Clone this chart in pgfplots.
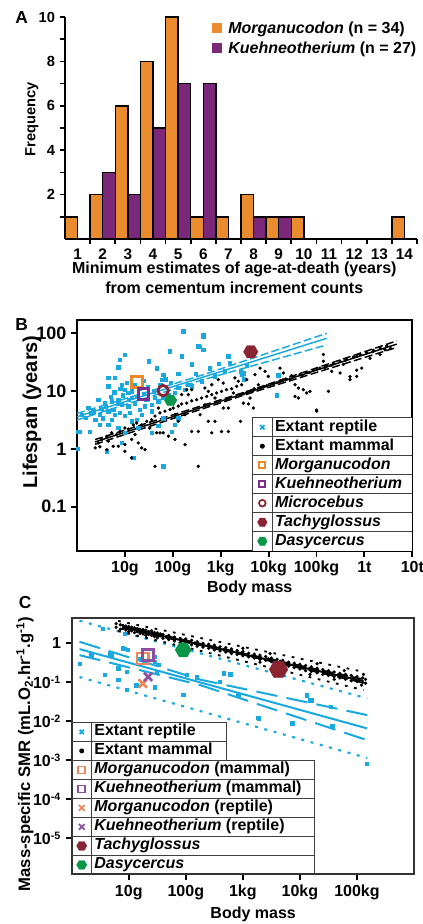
\documentclass[border=0pt]{standalone}
\usepackage{pgfplots}
\pgfplotsset{compat=1.18}
\usepackage{fontspec}
\setmainfont{Liberation Sans}
\newcommand{\fs}[1]{\fontsize{#1}{#1}\selectfont}
\definecolor{cyanR}{RGB}{25,168,224}
\definecolor{orA}{RGB}{234,139,45}
\definecolor{puA}{RGB}{124,40,122}
\definecolor{orB}{RGB}{236,137,44}
\definecolor{puB}{RGB}{125,45,140}
\definecolor{redT}{RGB}{138,36,50}
\definecolor{grD}{RGB}{10,150,72}
\definecolor{salC}{RGB}{236,134,92}
\definecolor{puC}{RGB}{140,80,160}
\pgfdeclareplotmark{hexagon*}{%
  \pgfpathmoveto{\pgfpointpolar{0}{\pgfplotmarksize}}%
  \pgfpathlineto{\pgfpointpolar{60}{\pgfplotmarksize}}%
  \pgfpathlineto{\pgfpointpolar{120}{\pgfplotmarksize}}%
  \pgfpathlineto{\pgfpointpolar{180}{\pgfplotmarksize}}%
  \pgfpathlineto{\pgfpointpolar{240}{\pgfplotmarksize}}%
  \pgfpathlineto{\pgfpointpolar{300}{\pgfplotmarksize}}%
  \pgfpathclose
  \pgfusepathqfillstroke}
\pgfplotsset{
  lgmark/.style 2 args={legend image code/.code={%
     \path[draw=none,fill=none] (-7.5pt,-7pt) rectangle (7.5pt,7pt);
     \draw[##1,mark size=#1,line width=#2,mark options={solid}] plot coordinates {(0pt,0pt)};}},
  lgx/.style={legend image code/.code={%
     \path[draw=none,fill=none] (-7.5pt,-7pt) rectangle (7.5pt,7pt);
     \draw[cyanR,line width=1.3pt,mark=x,mark size=2.3pt] plot coordinates {(0pt,0pt)};}},
  rept/.style={only marks, mark=square*, mark size=1.25pt, cyanR, mark options={draw=none, fill=cyanR}},
  mamm/.style={only marks, mark=*, mark size=1.05pt, black},
}
\begin{document}
\begin{tikzpicture}
\path[use as bounding box] (0,0) rectangle (317.25pt,693pt);
\node[font=\bfseries\fs{13}] at (16.3pt,679.5pt) {A};
\node[font=\bfseries\fs{13}] at (16.3pt,449.3pt) {B};
\node[font=\bfseries\fs{13}] at (18.8pt,240.8pt) {C};

%%%%%%%%%%%%%%%% A
\begin{axis}[name=axA, at={(48.75pt,513.75pt)}, anchor=south west, scale only axis,
  width=264pt, height=166.5pt, xmin=0, xmax=14, ymin=0, ymax=10, enlargelimits=false,
  axis lines*=left, axis line style={line width=1.4pt, black},
  tick align=outside, major tick length=4pt, tick style={line width=1.2pt, black},
  xtick={1,2,3,4,5,6,7,8,9,10,11,12,13,14},
  xticklabels={1,2,3,4,5,6,7,8,9,10,11,12,13,14},
  xticklabel style={xshift=-9.43pt, font=\bfseries\fs{11.5}},
  ytick={1,2,3,4,5,6,7,8,9,10}, yticklabels={,2,,4,,6,,8,,10},
  yticklabel style={font=\bfseries\fs{11}},
  ylabel={Frequency}, ylabel style={at={(rel axis cs:-0.0939,0.5405)}, anchor=center, font=\bfseries\fs{11}},
  xlabel={Minimum estimates of age-at-death (years)\\from cementum increment counts},
  xlabel style={align=center, font=\bfseries\fontsize{12}{15}\selectfont, at={(rel axis cs:0.481,-0.1757)}, anchor=center},
  legend cell align=left,
  legend style={at={(rel axis cs:0.409,0.994)}, anchor=north west, draw=none, fill=none,
    inner sep=0pt, outer sep=0pt, row sep=0pt, column sep=0pt, font=\bfseries\fs{12},
    nodes={draw=none, fill=none, inner sep=0pt, inner xsep=2.5pt, minimum height=15pt}},
]
\addplot[ybar, bar width=0.5, bar shift=0pt, fill=orA, draw=black, line width=1.1pt,
  legend image code/.code={\path[draw=none,fill=none] (-6pt,-7.5pt) rectangle (6pt,7.5pt); \path[fill=orA,draw=none] (-3.8pt,-3.8pt) rectangle (3.8pt,3.8pt);}]
  coordinates {(0.25,1) (1.25,2) (2.25,6) (3.25,8) (4.25,10) (5.25,1) (6.25,1) (7.25,2) (8.25,1) (9.25,1) (13.25,1)};
\addlegendentry{\textit{Morganucodon} (n = 34)}
\addplot[ybar, bar width=0.5, bar shift=0pt, fill=puA, draw=black, line width=1.1pt,
  legend image code/.code={\path[draw=none,fill=none] (-6pt,-7.5pt) rectangle (6pt,7.5pt); \path[fill=puA,draw=none] (-3.8pt,-3.8pt) rectangle (3.8pt,3.8pt);}]
  coordinates {(1.75,3) (2.75,2) (3.75,5) (4.75,7) (5.75,7) (7.75,1) (8.75,1)};
\addlegendentry{\textit{Kuehneotherium} (n = 27)}
\end{axis}

%%%%%%%%%%%%%%%% B
\begin{axis}[name=axB, at={(57.75pt,279.98pt)}, anchor=south west, scale only axis,
  width=251.5pt, height=173pt, xmode=log, ymode=log,
  xmin=1, xmax=1e7, ymin=0.01733, ymax=170,
  axis line style={line width=1.5pt, black},
  tick align=outside, tick pos=left, major tick length=4.5pt, tick style={line width=1.4pt, black},
  xminorticks=false, yminorticks=false,
  xtick={10,100,1000,10000,100000,1000000,10000000},
  xticklabels={10g,100g,1kg,10kg,100kg,1t,10t},
  xticklabel style={font=\bfseries\fs{12}},
  ytick={0.1,1,10,100}, yticklabels={0.1,1,10,100},
  yticklabel style={font=\bfseries\fs{13.5}},
  ylabel={Lifespan (years)}, ylabel style={at={(rel axis cs:-0.134,0.601)}, anchor=center, font=\bfseries\fs{15}},
  xlabel={Body mass}, xlabel style={at={(rel axis cs:0.515,-0.1617)}, anchor=center, font=\bfseries\fs{12}},
  lgmark={3pt}{1pt},
  legend cell align=left,
  legend style={at={(rel axis cs:1,0)}, anchor=south west, xshift=-120pt, draw=none, fill=white,
    inner sep=0pt, outer sep=0pt, row sep=0pt, column sep=0pt, font=\bfseries\fs{12},
    nodes={draw=none, fill=none, inner sep=0pt, inner xsep=2pt, outer sep=0pt, minimum height=14.25pt, text width=101pt, text height=8.5pt, text depth=2.5pt}},
]
\addplot[rept, lgx] coordinates {
(166,108) (434,89) (341,60) (434,52) (10,43) (7.9,35) (87,49) (31,33) (153,40) (7.3,26) (46,25) (248,29)
(4.5,16.9) (6.2,16.9) (63,19.3) (130,19.8) (59,15.8) (1443,40) (1563,31) (2740,19.3) (4.5,12.1) (8.6,12.9)
(10,10.6) (11.8,9.3) (13.8,7.6) (2.8,7.1) (3.8,6.2) (5.3,6.7) (7.3,7.1) (8.6,5.8) (11.8,5.5) (16.3,6.2)
(1.72,5.1) (1.25,3.9) (2.0,4.2) (3.0,3.9) (4.5,4.5) (5.7,4.8) (6.2,3.9) (7.9,4.2) (10,3.7) (12.8,4.2)
(20.7,4.8) (26.3,5.5) (36,5.8) (42.5,7.6) (50,6.7) (63,7.6) (81,8.7) (111,9.3) (130,11.3) (180,10.6)
(211,12.9) (248,12.1) (401,14.8) (760,18) (1.16,2.0) (1.87,2.0) (3.0,2.6) (4.5,2.6) (7.3,2.3) (10,1.9)
(17.6,3.2) (19,2.3) (36,1.9) (50,2.5) (63,3.4) (95,2.0) (111,2.6) (130,3.4) (8.6,1.27) (4.2,0.91) (15,0.70)
(63,0.50) (2.4,3.2) (3.5,3.4) (5.3,3.2) (22.4,3.9) (36,4.5) (13.8,3.0) (5,8) (6,9.5) (7,6) (9,8.5) (12,7)
(14,10) (18,8) (20,11) (25,9) (28,7) (4,5.5) (3.2,5) (2.2,4.5) (8,11) (16,13) (11,14) (24,15) (30,12)
(40,10) (55,13) (70,16) (90,14) (1.5,3.5) (1.05,1.0) (1.06,2.0) (370,59) (430,93) (2600,22) (3000,16)
(3500,28) (14800,8.5) (15900,18.7) (2960,20.4) (300,20) (600,25) (900,30) (1200,22)};
\addlegendentry{Extant reptile}
\addplot[mamm, lgmark={1.6pt}{0.5pt}] coordinates {
(2.4,1.04) (2.8,1.27) (3.3,1.46) (4.2,1.66) (4.5,1.36) (5.3,1.9) (6.7,1.77) (7.9,2.0) (10,2.3) (11.8,2.2)
(15,2.6) (17.6,2.8) (22.4,2.6) (28.5,3.0) (36,3.2) (42.5,3.7) (54,4.2) (68.5,4.5) (87.5,4.8) (102,5.1)
(130,5.5) (153,6.0) (195,6.2) (248,6.8) (315,7.1) (401,7.6) (509,8.1) (650,8.7) (822,9.3) (1040,9.9)
(1320,10.6) (1690,11.0) (2150,12.1) (2740,12.9) (7.3,1.11) (10,0.91) (13.8,1.46) (19,1.27) (22.4,1.04)
(26.3,0.97) (46,1.9) (54,1.9) (63,1.9) (81,1.66) (111,1.46) (13.8,0.70) (42.5,0.50) (341,0.50) (180,1.19)
(248,2.0) (341,2.0) (650,1.9) (1040,2.0) (1443,2.0) (552,3.0) (760,3.0) (1130,5.1) (1443,5.1) (650,12.9)
(890,15.8) (468,11.3) (1130,13.8) (1980,16.9) (211,8.7) (248,10.6) (111,3.9) (180,3.9) (370,3.9) (468,5.8)
(1320,7.1) (130,3.0) (50,5.1) (33,2.3) (16.3,1.77) (10,1.19) (5.7,1.11) (4.2,0.97) (81,6.7) (111,7.1)
(153,8.7) (195,10.6) (552,9.9) (760,7.6) (1840,9.3) (2330,14.8) (3.0,1.09) (4.2,1.6)
(2530,8.7) (3480,9.5) (4800,10.3) (6620,11.3) (9120,12.4) (12560,13.5) (17300,14.8) (23800,16.0)
(32800,17.6) (45300,19.3) (62400,20.9) (85900,22.9) (118000,25) (163000,27.2) (225000,29.9) (310000,33)
(427000,35.5) (587000,38.9) (809000,43) (1110000,46.4) (1540000,50.8) (2120000,55.7) (2920000,60.4)
(2970,6.2) (3780,6.0) (4800,5.1) (4090,7.6) (6110,12.9) (8420,22) (9890,18) (6620,25) (17300,25)
(20300,20.6) (28000,15.8) (35600,12.9) (41800,11.3) (53100,10.6) (62400,9.3) (73100,9.9) (35600,8.1)
(41800,7.6) (101000,4.5) (177000,9.9) (139000,33) (163000,27) (207000,22) (139000,43) (500000,15.8)
(690000,18) (877000,25) (310000,20.6) (363000,29) (1310000,37) (2120000,43) (2690000,52) (3480,15.8)
(5200,19.3) (2590,3.0) (100000,4.7) (500000,17.8) (690000,23) (3000,9.0) (5000,11) (8000,12) (15000,14)
(20000,15.5) (30000,18.5) (50000,18.5) (70000,21) (100000,24) (150000,25.5) (200000,28) (400000,34)
(700000,40) (1500000,48) (3500000,55)};
\addlegendentry{Extant mammal}
% regression lines
\addplot[forget plot, cyanR, line width=1.1pt] coordinates {(1,3.6) (163000,82)};
\addplot[forget plot, cyanR, line width=1.1pt, dash pattern=on 6pt off 2.5pt] coordinates {(1,4.1) (400,18.8) (163000,100)};
\addplot[forget plot, cyanR, line width=1.1pt, dash pattern=on 6pt off 2.5pt] coordinates {(1,3.16) (400,15.5) (163000,63)};
\addplot[forget plot, black, line width=1.1pt] coordinates {(2.38,1.32) (4720000,65)};
\addplot[forget plot, black, line width=1.1pt, dash pattern=on 6pt off 2.5pt] coordinates {(2.38,1.45) (3162,9.6) (4720000,74)};
\addplot[forget plot, black, line width=1.1pt, dash pattern=on 6pt off 2.5pt] coordinates {(2.38,1.2) (3162,8.6) (4720000,57)};
% fossils and reference taxa
\addplot[only marks, mark=square, mark size=3.9pt, orB, line width=2.1pt, mark options={solid}, lgmark={2.3pt}{1.4pt}] coordinates {(17.9,14.4)};
\addlegendentry{\textit{Morganucodon}}
\addplot[only marks, mark=square, mark size=3.9pt, puB, line width=2.1pt, mark options={solid}, lgmark={2.3pt}{1.4pt}] coordinates {(24.3,8.9)};
\addlegendentry{\textit{Kuehneotherium}}
\addplot[only marks, mark=o, mark size=3.9pt, redT, line width=2.1pt, mark options={solid}, lgmark={2.5pt}{1.3pt}] coordinates {(63,10.2)};
\addlegendentry{\textit{Microcebus}}
\addplot[only marks, mark=hexagon*, mark size=5.4pt, redT, line width=0.3pt, lgmark={3.6pt}{0.3pt}] coordinates {(4230,48)};
\addlegendentry{\textit{Tachyglossus}}
\addplot[only marks, mark=hexagon*, mark size=4.6pt, grD, line width=0.3pt, lgmark={3.6pt}{0.3pt}] coordinates {(90,6.9)};
\addlegendentry{\textit{Dasycercus}}
\end{axis}
\begin{scope}[shift={(axB.south east)}, line width=0.9pt, black!75]
 \draw (-120pt,0) -- (-120pt,99.75pt) -- (0,99.75pt);
 \draw (-105pt,0) -- (-105pt,99.75pt);
 \foreach \k in {1,...,6} \draw (-120pt,\k*14.25pt) -- (0,\k*14.25pt);
\end{scope}

%%%%%%%%%%%%%%%% C
\begin{axis}[name=axC, at={(53.8pt,37.2pt)}, anchor=south west, scale only axis,
  width=256.7pt, height=192pt, xmode=log, ymode=log,
  xmin=1, xmax=1e6, ymin=1.19e-6, ymax=4.375,
  axis line style={line width=1.5pt, black!80},
  tick align=outside, tick pos=left, major tick length=4.5pt, tick style={line width=1.4pt, black},
  xminorticks=false, yminorticks=false,
  xtick={10,100,1000,10000,100000},
  xticklabels={10g,100g,1kg,10kg,100kg},
  xticklabel style={font=\bfseries\fs{12}},
  ytick={1e-5,1e-4,1e-3,1e-2,1e-1,1},
  yticklabels={10\textsuperscript{-5},10\textsuperscript{-4},10\textsuperscript{-3},10\textsuperscript{-2},10\textsuperscript{-1},1},
  yticklabel style={font=\bfseries\fs{12}},
  ylabel={Mass-specific SMR (mL.O\textsubscript{2}.hr\textsuperscript{-1}.g\textsuperscript{-1})},
  ylabel style={at={(rel axis cs:-0.1364,0.47)}, anchor=center, font=\bfseries\fs{12.5}},
  xlabel={Body mass}, xlabel style={at={(rel axis cs:0.53,-0.155)}, anchor=center, font=\bfseries\fs{12}},
  lgmark={3pt}{1pt},
  legend cell align=left,
  legend style={at={(rel axis cs:0,0)}, anchor=south west, draw=none, fill=none,
    inner sep=0pt, outer sep=0pt, row sep=0pt, column sep=0pt, font=\bfseries\fs{12},
    nodes={draw=none, fill=none, inner sep=0pt, inner xsep=2pt, outer sep=0pt, minimum height=14.25pt, text height=8.5pt, text depth=2.5pt}},
]
\addplot[rept, lgx] coordinates {
(1.37,0.306) (4.6,0.553) (2.2,0.50) (7.9,0.743) (9.7,0.673) (6.5,0.228) (9.1,0.187) (6.5,0.115) (9.1,0.0635)
(28.6,0.338) (30.6,0.187) (28.6,0.0743) (90,0.0472) (103,0.154) (155,0.134) (398,0.104) (457,0.170)
(600,0.163) (835,0.047) (1900,0.0119) (7300,0.0089) (13300,0.047) (16300,0.035) (34300,0.0238)
(36700,0.0076) (150000,0.00083) (8.5,1.8) (15.6,0.41) (3.5,2.4) (4.95,0.5) (8.5,0.74) (3.8,0.154)
(13.6,0.085) (28.6,0.454) (32.7,0.278) (14800,0.035) (1870,0.0125)};
\addlegendentry{Extant reptile}
\addplot[mamm, lgmark={1.6pt}{0.5pt}] coordinates {
(6.0,3.2) (6.0,2.6) (7.1,3.0) (7.1,2.3) (7.9,2.9) (7.9,2.4) (8.9,2.8) (8.9,2.2) (10,2.7) (10,2.0) (10,2.45)
(11.2,2.6) (11.2,2.1) (12.6,2.5) (12.6,1.9) (14.1,2.4) (14.1,2.0) (15.8,2.3) (15.8,1.8) (17.8,2.25)
(17.8,1.75) (20,2.2) (20,1.6) (22.4,2.0) (22.4,1.7) (25.1,2.1) (25.1,1.6) (28.2,1.9) (28.2,1.5) (31.6,1.85)
(31.6,1.4) (35.5,1.75) (39.8,1.7) (39.8,1.35) (50.1,1.6) (50.1,1.25) (63.1,1.45) (63.1,1.15) (79.4,1.35)
(79.4,1.05) (100,1.3) (100,0.98) (126,1.2) (126,0.92) (158,1.1) (158,0.85) (200,1.0) (200,0.8) (251,0.95)
(251,0.75) (316,0.9) (316,0.68) (398,0.82) (398,0.64) (501,0.78) (501,0.6) (631,0.72) (631,0.55) (794,0.66)
(794,0.52) (1000,0.62) (1000,0.48) (1259,0.56) (1259,0.45) (1585,0.53) (1585,0.42) (1995,0.5) (1995,0.39)
(2512,0.46) (2512,0.37) (2800,0.4) (3162,0.42) (3162,0.34) (3500,0.37) (3981,0.39) (3981,0.31) (4500,0.35)
(5012,0.37) (5012,0.28) (6310,0.33) (6310,0.26) (7943,0.31) (7943,0.24) (10000,0.29) (10000,0.22)
(12589,0.27) (12589,0.2) (15849,0.25) (15849,0.19) (19953,0.23) (19953,0.175) (25119,0.215) (25119,0.16)
(31623,0.2) (31623,0.15) (39811,0.185) (39811,0.14) (50119,0.17) (50119,0.13) (63096,0.16) (63096,0.12)
(79433,0.15) (79433,0.11) (100000,0.14) (100000,0.105) (125893,0.13) (125893,0.1) (141254,0.12)
(141254,0.095) (1000,0.75) (3000,0.55) (20000,0.3) (60000,0.2) (130000,0.16) (2000,0.33) (15000,0.16)
(40000,0.12) (120000,0.085)};
\addlegendentry{Extant mammal}
% regression lines
\addplot[forget plot, cyanR, line width=1.5pt] coordinates {(1.37,0.714) (151000,0.0066)};
\addplot[forget plot, cyanR, line width=1.5pt, dash pattern=on 16pt off 7pt] coordinates {(1.37,1.1) (177,0.118) (151000,0.0145)};
\addplot[forget plot, cyanR, line width=1.5pt, dash pattern=on 16pt off 7pt] coordinates {(1.37,0.5) (177,0.0855) (151000,0.0033)};
\addplot[forget plot, cyanR, line width=1.6pt, dash pattern=on 2.2pt off 5pt] coordinates {(1.37,3.8) (151000,0.039)};
\addplot[forget plot, cyanR, line width=1.6pt, dash pattern=on 2.2pt off 5pt] coordinates {(1.37,0.137) (151000,0.00115)};
\addplot[forget plot, black, line width=1.5pt] coordinates {(7.8,2.62) (130000,0.108)};
\addplot[forget plot, black, line width=1.2pt, dash pattern=on 8pt off 3pt] coordinates {(7.8,2.8) (1000,0.56) (130000,0.12)};
\addplot[forget plot, black, line width=1.2pt, dash pattern=on 8pt off 3pt] coordinates {(7.8,2.45) (1000,0.51) (130000,0.097)};
\addplot[forget plot, black, line width=1.4pt, dash pattern=on 2pt off 5pt] coordinates {(6.5,3.76) (130000,0.187)};
\addplot[forget plot, black, line width=1.4pt, dash pattern=on 2pt off 5pt] coordinates {(6.5,2.07) (130000,0.0636)};
% fossils and reference taxa
\addplot[only marks, mark=square, mark size=4.2pt, salC, line width=1.9pt, mark options={solid}, lgmark={2.6pt}{1.2pt}] coordinates {(17.6,0.41)};
\addlegendentry{\textit{Morganucodon} (mammal)}
\addplot[only marks, mark=square, mark size=4.2pt, puC, line width=1.9pt, mark options={solid}, lgmark={2.6pt}{1.2pt}] coordinates {(21.8,0.50)};
\addlegendentry{\textit{Kuehneotherium} (mammal)}
\addplot[only marks, mark=x, mark size=4.4pt, salC, line width=2pt, mark options={solid}, lgmark={3pt}{1.3pt}] coordinates {(17.6,0.094)};
\addlegendentry{\textit{Morganucodon} (reptile)}
\addplot[only marks, mark=x, mark size=4.4pt, puC, line width=2pt, mark options={solid}, lgmark={3pt}{1.3pt}] coordinates {(21.8,0.139)};
\addlegendentry{\textit{Kuehneotherium} (reptile)}
\addplot[only marks, mark=hexagon*, mark size=7pt, redT, line width=0.3pt, lgmark={3.8pt}{0.3pt}] coordinates {(4220,0.215)};
\addlegendentry{\textit{Tachyglossus}}
\addplot[only marks, mark=hexagon*, mark size=6pt, grD, line width=0.3pt, lgmark={3.8pt}{0.3pt}] coordinates {(90,0.68)};
\addlegendentry{\textit{Dasycercus}}
\end{axis}
\begin{scope}[shift={(axC.south west)}, line width=0.9pt, black!75]
 \draw (0,114pt) -- (116.25pt,114pt) -- (116.25pt,85.5pt);
 \draw (0,99.75pt) -- (116.25pt,99.75pt);
 \draw (0,85.5pt) -- (182.25pt,85.5pt) -- (182.25pt,0);
 \foreach \k in {1,...,5} \draw (0,\k*14.25pt) -- (182.25pt,\k*14.25pt);
 \draw (15pt,0) -- (15pt,114pt);
\end{scope}
\end{tikzpicture}
\end{document}
